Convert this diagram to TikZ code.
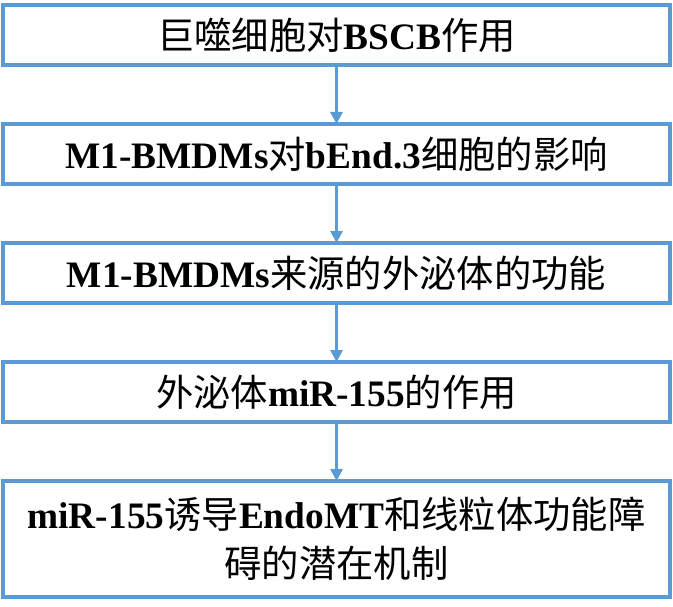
\documentclass[tikz,border=0pt]{standalone}
\usepackage{fontspec}
\setmainfont{Liberation Serif}
\newfontfamily\cjk{Noto Sans CJK SC}
\usepackage{xcolor}
\usepackage{tikz}
\usetikzlibrary{shapes,arrows.meta,positioning}
\definecolor{flowblue}{RGB}{91,155,213}
\newcommand{\zh}[1]{{\cjk\mdseries #1}}

\begin{document}
\begin{tikzpicture}[node distance=44.25pt, auto,
    stepbox/.style={rectangle, draw=flowblue, line width=3pt, outer sep=0pt, minimum width=500pt, minimum height=45pt, align=center, font=\fontsize{28}{37}\selectfont\bfseries},
    flow/.style={-{Triangle[width=9pt,length=9pt]}, draw=flowblue, fill=flowblue, line width=2.25pt}]

    \useasboundingbox (0,0) rectangle (504.75pt,-454.5pt);

    \node[stepbox] (bscb) at (252.4pt,-26.25pt) {\zh{巨噬细胞对}BSCB\zh{作用}};
    \node[stepbox, below=of bscb] (bend) {M1-BMDMs\zh{对}bEnd.3\zh{细胞的影响}};
    \node[stepbox, below=of bend] (exo) {M1-BMDMs\zh{来源的外泌体的功能}};
    \node[stepbox, below=of exo] (mir) {\zh{外泌体}miR-155\zh{的作用}};
    \node[stepbox, below=of mir, minimum height=87pt] (mech) {miR-155\zh{诱导}EndoMT\zh{和线粒体功能障}\\\zh{碍的潜在机制}};

    \draw[flow] (bscb) -- (bend);
    \draw[flow] (bend) -- (exo);
    \draw[flow] (exo) -- (mir);
    \draw[flow] (mir) -- (mech);

\end{tikzpicture}
\end{document}
